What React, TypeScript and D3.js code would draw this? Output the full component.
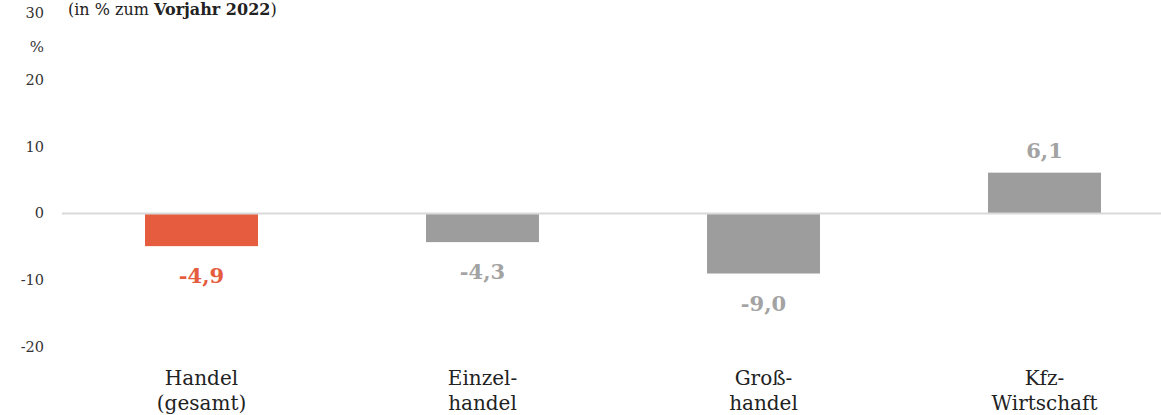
import React from "react";
import * as d3 from "d3";

// Categories (two-line labels), values and tick labels
const categoryLines: string[][] = [
  ["Handel", "(gesamt)"],
  ["Einzel-", "handel"],
  ["Groß-", "handel"],
  ["Kfz-", "Wirtschaft"],
];
const categoryKeys = ["handel", "einzelhandel", "grosshandel", "kfz"];
const values = [-4.9, -4.3, -9.0, 6.1];
const barColors = ["#e55c3f", "#9d9d9d", "#9d9d9d", "#9d9d9d"];
const labelColors = ["#e55c3f", "#a3a3a3", "#a3a3a3", "#a3a3a3"];
const yTicks = [30, 20, 10, 0, -10, -20];

const W = 1161;
const H = 415;
const FONT = "'DejaVu Serif', serif";

export default function App() {
  const y = d3.scaleLinear().domain([-20, 30]).range([347, 13]);
  const x = d3
    .scaleBand<string>()
    .domain(categoryKeys)
    .range([61, 61 + 4 * 281])
    .paddingInner(0.598)
    .paddingOuter(0.299);
  const fmt = (v: number) => v.toFixed(1).replace(".", ",");

  return (
    <svg
      width={W}
      height={H}
      style={{ position: "absolute", left: 0, top: 0, background: "#fff" }}
      fontFamily={FONT}
    >
      {/* subtitle */}
      <text x={68} y={15} fontSize={16} fill="#222">
        (in % zum <tspan fontWeight="bold">Vorjahr 2022</tspan>)
      </text>
      {/* unit */}
      <text x={44} y={52} fontSize={15} fill="#333" textAnchor="end">
        %
      </text>
      {/* y tick labels */}
      {yTicks.map((t) => (
        <text
          key={t}
          x={44}
          y={y(t)}
          dy="0.35em"
          fontSize={14.5}
          fill="#333"
          textAnchor="end"
        >
          {t}
        </text>
      ))}
      {/* bars */}
      {values.map((v, i) => {
        const x0 = x(categoryKeys[i])!;
        const top = y(Math.max(0, v));
        const bot = y(Math.min(0, v));
        return (
          <rect
            key={i}
            x={x0}
            y={top}
            width={x.bandwidth()}
            height={bot - top}
            fill={barColors[i]}
          />
        );
      })}
      {/* zero line */}
      <line x1={62} x2={W} y1={y(0)} y2={y(0)} stroke="#d9d9d9" strokeWidth={2} />
      {/* value labels */}
      {values.map((v, i) => {
        const cx = x(categoryKeys[i])! + x.bandwidth() / 2;
        const ly = v < 0 ? y(v) + 37 : y(v) - 15;
        return (
          <text
            key={i}
            x={cx}
            y={ly}
            fontSize={21}
            fontWeight="bold"
            fill={labelColors[i]}
            textAnchor="middle"
          >
            {fmt(v)}
          </text>
        );
      })}
      {/* category labels */}
      {categoryLines.map((lines, i) => {
        const cx = x(categoryKeys[i])! + x.bandwidth() / 2;
        return (
          <text key={i} x={cx} y={385} fontSize={20} fill="#222" textAnchor="middle">
            {lines.map((l, j) => (
              <tspan key={j} x={cx} dy={j === 0 ? 0 : 25}>
                {l}
              </tspan>
            ))}
          </text>
        );
      })}
    </svg>
  );
}
